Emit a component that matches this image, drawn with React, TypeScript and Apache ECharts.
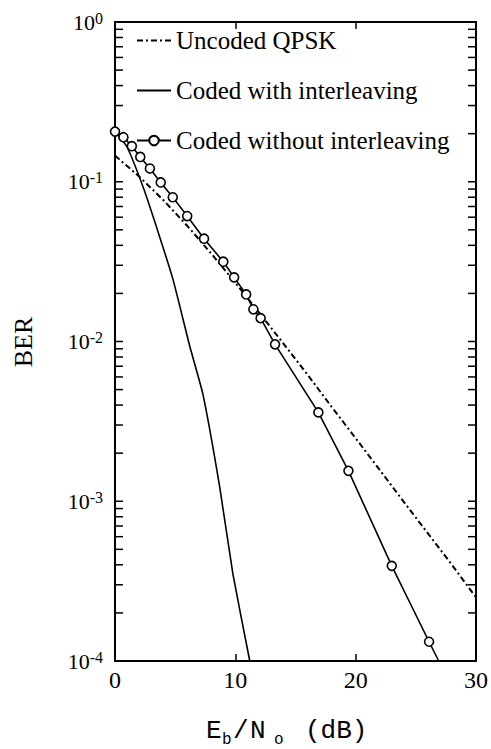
import React, { useEffect, useRef } from 'react';
import * as echarts from 'echarts';

// ---- data ----
const uncodedX = [0, 2, 4, 6, 8, 10, 12, 14, 16, 18, 20, 22, 24, 26, 28, 30];
const uncodedBER = [0.146, 0.108, 0.077, 0.053, 0.0355, 0.0233, 0.0151, 0.0097, 0.0062, 0.0039, 0.00248, 0.00157, 0.00099, 0.00063, 0.0004, 0.00025];

const interX = [0, 1, 2.35, 3.6, 4.83, 6.22, 7.3, 8.7, 9.8, 11.2];
const interBER = [0.206, 0.165, 0.092, 0.048, 0.0243, 0.0093, 0.0047, 0.00123, 0.00035, 0.0001];

const nointerX = [0, 0.7, 1.4, 2.1, 2.9, 3.8, 4.8, 6.0, 7.4, 9.0, 9.9, 10.9, 11.5, 12.1, 13.3, 16.9, 19.4, 23.0, 26.1, 26.9];
const nointerBER = [0.206, 0.19, 0.167, 0.143, 0.121, 0.099, 0.08, 0.061, 0.044, 0.0316, 0.0252, 0.0197, 0.0159, 0.014, 0.0096, 0.0036, 0.00155, 0.000394, 0.000132, 0.0001];
// the last point of "without interleaving" is where the line meets the axis (no marker)

const seriesNames = ['Uncoded QPSK', 'Coded with interleaving', 'Coded without interleaving'];

const xMin = 0;
const xMax = 30;
const xInterval = 10;
const yMin = 0.0001;
const yMax = 1;
const tickExponents = [-4, -3, -2, -1];
const tickMantissas = [1, 2, 3, 4, 5, 6, 7, 8, 9];

const SERIF = "'Liberation Serif', 'Times New Roman', serif";
const MONO = "'Liberation Mono', 'Courier New', monospace";

export default function App() {
  const ref = useRef<HTMLDivElement>(null);

  useEffect(() => {
    const chart = echarts.init(ref.current!, null, { renderer: 'svg' });

    const yTicks: number[][] = [];
    tickExponents.forEach((e) => {
      tickMantissas.forEach((m) => {
        yTicks.push([xMin, m * Math.pow(10, e)]);
      });
    });

    const lastIdx = nointerX.length - 1;
    const nointerData = nointerX.map((x, i) =>
      i === lastIdx ? { value: [x, nointerBER[i]], symbol: 'none' } : [x, nointerBER[i]]
    );

    const option: any = {
      animation: false,
      backgroundColor: '#fff',
      grid: {
        left: 115,
        right: 14,
        top: 22,
        bottom: 88,
        show: true,
        borderColor: '#000',
        borderWidth: 2,
      },
      legend: {
        data: [
          { name: seriesNames[0], itemStyle: { opacity: 0 } },
          { name: seriesNames[1], itemStyle: { opacity: 0 } },
          { name: seriesNames[2] },
        ],
        orient: 'vertical',
        left: 136,
        top: 28,
        padding: 0,
        itemWidth: 34,
        itemHeight: 12,
        itemGap: 25,
        textStyle: { fontFamily: SERIF, fontSize: 25, color: '#000', lineHeight: 25 },
        selectedMode: false,
      },
      xAxis: [
        {
          type: 'value',
          min: xMin,
          max: xMax,
          interval: xInterval,
          position: 'bottom',
          axisLine: { show: false },
          axisTick: { show: true, inside: true, length: 7, lineStyle: { color: '#000', width: 1.5 } },
          axisLabel: { color: '#000', fontFamily: SERIF, fontSize: 24, margin: 7 },
          splitLine: { show: false },
        },
        {
          type: 'value',
          min: xMin,
          max: xMax,
          interval: xInterval,
          position: 'top',
          axisLine: { show: false },
          axisTick: { show: true, inside: true, length: 7, lineStyle: { color: '#000', width: 1.5 } },
          axisLabel: { show: false },
          splitLine: { show: false },
        },
      ],
      yAxis: {
        type: 'log',
        logBase: 10,
        min: yMin,
        max: yMax,
        axisLine: { show: false },
        axisTick: { show: false },
        splitLine: { show: false },
        axisLabel: {
          margin: 12,
          formatter: (v: number) => `{b|10}{e|${Math.round(Math.log10(v))}}`,
          rich: {
            b: { fontFamily: SERIF, fontSize: 22, color: '#000', lineHeight: 24 },
            e: { fontFamily: SERIF, fontSize: 16, color: '#000', lineHeight: 16, verticalAlign: 'top' },
          },
        },
      },
      series: [
        {
          name: seriesNames[0],
          type: 'line',
          data: uncodedX.map((x, i) => [x, uncodedBER[i]]),
          symbol: 'none',
          lineStyle: { color: '#000', width: 2, type: [6, 3, 2, 3] },
          itemStyle: { color: '#000' },
        },
        {
          name: seriesNames[1],
          type: 'line',
          data: interX.map((x, i) => [x, interBER[i]]),
          symbol: 'none',
          smooth: 0.15,
          lineStyle: { color: '#000', width: 1.6 },
          itemStyle: { color: '#000' },
        },
        {
          name: seriesNames[2],
          type: 'line',
          data: nointerData,
          symbol: 'circle',
          symbolSize: 9,
          lineStyle: { color: '#000', width: 1.6 },
          itemStyle: { color: '#fff', borderColor: '#000', borderWidth: 1.6 },
        },
        {
          name: 'yticks',
          type: 'custom',
          silent: true,
          data: yTicks,
          encode: { x: 0, y: 1 },
          renderItem: (params: any, api: any) => {
            const v = api.value(1);
            const p0 = api.coord([xMin, v]);
            const p1 = api.coord([xMax, v]);
            return {
              type: 'group',
              children: [
                { type: 'line', shape: { x1: p0[0], y1: p0[1], x2: p0[0] + 8, y2: p0[1] }, style: { stroke: '#000', lineWidth: 1.5 } },
                { type: 'line', shape: { x1: p1[0] - 8, y1: p1[1], x2: p1[0], y2: p1[1] }, style: { stroke: '#000', lineWidth: 1.5 } },
              ],
            };
          },
        },
      ],
      graphic: [
        {
          type: 'text',
          x: 23,
          y: 342,
          rotation: Math.PI / 2,
          style: { text: 'BER', fontFamily: SERIF, fontSize: 26, fill: '#000', align: 'center', verticalAlign: 'middle' },
        },
        { type: 'text', x: 206, y: 731, style: { text: 'E', fontFamily: MONO, fontSize: 26, fill: '#000', align: 'left', verticalAlign: 'middle' } },
        { type: 'text', x: 222, y: 740, style: { text: 'b', fontFamily: MONO, fontSize: 16, fill: '#000', align: 'left', verticalAlign: 'middle' } },
        { type: 'text', x: 233, y: 731, style: { text: '/', fontFamily: MONO, fontSize: 26, fill: '#000', align: 'left', verticalAlign: 'middle' } },
        { type: 'text', x: 250, y: 731, style: { text: 'N', fontFamily: MONO, fontSize: 26, fill: '#000', align: 'left', verticalAlign: 'middle' } },
        { type: 'text', x: 274, y: 740, style: { text: 'o', fontFamily: MONO, fontSize: 16, fill: '#000', align: 'left', verticalAlign: 'middle' } },
        { type: 'text', x: 305, y: 731, style: { text: '(dB)', fontFamily: MONO, fontSize: 26, fill: '#000', align: 'left', verticalAlign: 'middle' } },
      ],
    };

    chart.setOption(option);
    return () => chart.dispose();
  }, []);

  return <div ref={ref} style={{ position: 'absolute', left: 0, top: 0, width: 491, height: 749 }} />;
}
